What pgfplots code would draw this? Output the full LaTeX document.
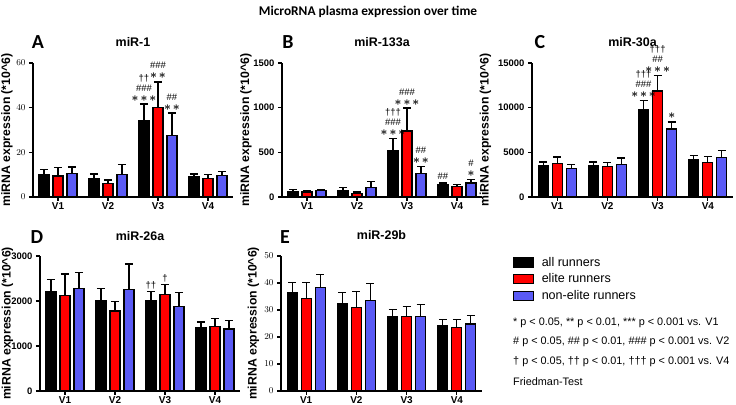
\documentclass[border=0pt]{standalone}
\usepackage{fontspec}
\setmainfont{Liberation Sans}
\newfontfamily\carlito{Carlito}
\usepackage{pgfplots}
\pgfplotsset{compat=1.18}

\definecolor{runred}{HTML}{FF0000}
\definecolor{runblue}{HTML}{5A5AF5}

\newcommand{\fs}[2]{\fontsize{#1}{#2}\selectfont}
\newcommand{\st}{{\boldmath$\ast$}}
\newcommand{\sone}{{\fs{12}{10}\st}}
\newcommand{\stwo}{{\fs{12}{10}\st\hspace{2bp}\st}}
\newcommand{\sthree}{{\fs{12}{10}\st\hspace{2bp}\st\hspace{2bp}\st}}
\newcommand{\dg}{\textdagger}
% one row of a significance stack: x, y (bar top), row (0 = lowest), text
\newcommand{\sg}[4]{\node[sig, yshift={3bp+10bp*#3}] at (axis cs:#1,#2) {#4};}

\pgfplotsset{
  panel/.style={
    scale only axis, width=200bp,
    axis x line*=bottom, axis y line*=left,
    axis line style={-, line width=1.2bp},
    xmin=0.5, xmax=4.5, ymin=0,
    xtick={1,2,3,4}, xticklabels={V1,V2,V3,V4},
    tick align=outside, major tick length=4bp,
    tick style={black, line width=1.2bp},
    x tick label style={font=\bfseries\fs{10}{11}, yshift=1.5bp},
    y tick label style={font=\bfseries\fs{9.5}{11}},
    scaled y ticks=false,
    ybar=4bp, bar width=10bp,
    clip=false,
    ylabel={miRNA expression (*10\textasciicircum 6)},
    every axis y label/.style={at={(axis description cs:#1,0.5)}, rotate=90,
      anchor=center, font=\bfseries\fs{12.3}{14}},
    every axis title/.style={at={(axis description cs:0.5,1)}, anchor=base,
      yshift=16bp, font=\bfseries\fs{12.5}{14}},
    error bars/y dir=plus, error bars/y explicit,
    error bars/error bar style={line width=1.2bp, black},
    error bars/error mark options={rotate=90, mark size=4bp, line width=1.2bp, black},
  },
  s1/.style={fill=black, draw=black, line width=1.2bp},
  s2/.style={fill=runred, draw=black, line width=1.2bp},
  s3/.style={fill=runblue, draw=black, line width=1.2bp},
}
\tikzset{sig/.style={anchor=base, inner sep=0pt, font=\fs{9.5}{10}}}

\begin{document}
\begin{tikzpicture}
\useasboundingbox (0bp,0bp) rectangle (736bp,405bp);

\node[font=\carlito\bfseries\fs{13.4}{15}] at (368bp,393bp) {MicroRNA plasma expression over time};

% A
\begin{axis}[panel=-0.13, height=134bp, at={(33bp,208bp)}, anchor=south west,
  ymax=60, ytick={0,20,40,60}, title={miR-1}]
\addplot[s1] coordinates {(1,10.0) +- (0,2.4) (2,8.1) +- (0,2.2) (3,34.0) +- (0,7.6) (4,9.1) +- (0,1.2)};
\addplot[s2] coordinates {(1,9.4) +- (0,3.9) (2,6.1) +- (0,1.5) (3,40.0) +- (0,11.5) (4,8.4) +- (0,1.7)};
\addplot[s3] coordinates {(1,10.4) +- (0,3.0) (2,10.1) +- (0,4.5) (3,27.6) +- (0,10.0) (4,9.7) +- (0,1.8)};
\sg{2.72}{41.6}{0}{\sthree}\sg{2.72}{41.6}{1}{\#\#\#}\sg{2.72}{41.6}{2}{\dg\dg}
\sg{3}{51.5}{0}{\stwo}\sg{3}{51.5}{1}{\#\#\#}
\sg{3.28}{37.6}{0}{\stwo}\sg{3.28}{37.6}{1}{\#\#}
\end{axis}

% B
\begin{axis}[panel=-0.18, height=134bp, at={(282bp,208bp)}, anchor=south west,
  ymax=1500, ytick={0,500,1000,1500}, yticklabels={0,500,1000,1500}, title={miR-133a}]
\addplot[s1] coordinates {(1,65) +- (0,15) (2,70) +- (0,35) (3,515) +- (0,138) (4,140) +- (0,17)};
\addplot[s2] coordinates {(1,55) +- (0,17) (2,40) +- (0,15) (3,739) +- (0,257) (4,119) +- (0,23)};
\addplot[s3] coordinates {(1,75) +- (0,13) (2,105) +- (0,65) (3,265) +- (0,78) (4,157) +- (0,37)};
\sg{2.72}{653}{0}{\sthree}\sg{2.72}{653}{1}{\#\#\#}\sg{2.72}{653}{2}{\dg\dg\dg}
\sg{3}{996}{0}{\sthree}\sg{3}{996}{1}{\#\#\#}
\sg{3.28}{343}{0}{\stwo}\sg{3.28}{343}{1}{\#\#}
\sg{3.72}{157}{0}{\#\#}
\sg{4.28}{194}{0}{\sone}\sg{4.28}{194}{1}{\#}
\end{axis}

% C
\begin{axis}[panel=-0.231, width=201bp, height=134bp, at={(532bp,208bp)}, anchor=south west,
  ymax=15000, ytick={0,5000,10000,15000}, yticklabels={0,5000,10000,15000}, title={miR-30a}]
\addplot[s1] coordinates {(1,3470) +- (0,448) (2,3545) +- (0,373) (3,9813) +- (0,1008) (4,4179) +- (0,485)};
\addplot[s2] coordinates {(1,3731) +- (0,747) (2,3433) +- (0,410) (3,11866) +- (0,1753) (4,3881) +- (0,671)};
\addplot[s3] coordinates {(1,3172) +- (0,485) (2,3657) +- (0,709) (3,7612) +- (0,784) (4,4440) +- (0,784)};
\sg{2.72}{10821}{0}{\sthree}\sg{2.72}{10821}{1}{\#\#\#}\sg{2.72}{10821}{2}{\dg\dg\dg}
\sg{3}{13619}{0}{\sthree}\sg{3}{13619}{1}{\#\#}\sg{3}{13619}{2}{\dg\dg\dg}
\sg{3.28}{8396}{0}{\sone}
\end{axis}

% D
\begin{axis}[panel=-0.1625, height=135bp, at={(40bp,14bp)}, anchor=south west,
  ymax=3000, ytick={0,1000,2000,3000}, yticklabels={0,1000,2000,3000}, title={miR-26a}]
\addplot[s1] coordinates {(1,2200) +- (0,281) (2,2000) +- (0,274) (3,2015) +- (0,192) (4,1407) +- (0,126)};
\addplot[s2] coordinates {(1,2126) +- (0,474) (2,1778) +- (0,207) (3,2148) +- (0,222) (4,1430) +- (0,177)};
\addplot[s3] coordinates {(1,2274) +- (0,363) (2,2259) +- (0,563) (3,1881) +- (0,304) (4,1378) +- (0,192)};
\sg{2.72}{2207}{0}{\dg\dg}
\sg{3}{2370}{0}{\dg}
\end{axis}

% E
\begin{axis}[panel=-0.137, width=201bp, height=135bp, at={(281bp,14bp)}, anchor=south west,
  ymax=50, ytick={0,10,20,30,40,50}, title={miR-29b},
  legend cell align=left,
  legend style={at={(1.154,1)}, anchor=north west, draw=none, fill=none,
    font=\fs{12.6}{15}, row sep=4bp, inner sep=0pt, nodes={inner sep=1bp}},
  legend image code/.code={\draw[#1, line width=1.2bp] (0bp,-4.5bp) rectangle (20bp,4.5bp);
    \path[draw=none, fill=none] (0bp,0bp) -- (27bp,0bp);}]
\addplot[s1] coordinates {(1,36.4) +- (0,3.7) (2,32.2) +- (0,4.2) (3,27.6) +- (0,2.7) (4,24.3) +- (0,2.2)};
\addplot[s2] coordinates {(1,34.4) +- (0,5.8) (2,30.8) +- (0,6.0) (3,27.6) +- (0,3.8) (4,23.6) +- (0,3.0)};
\addplot[s3] coordinates {(1,38.2) +- (0,5.0) (2,33.4) +- (0,6.5) (3,27.6) +- (0,4.3) (4,24.8) +- (0,3.3)};
\legend{all runners, elite runners, non-elite runners}
\end{axis}

% panel letters
\begin{scope}[every node/.style={font=\carlito\bfseries\fs{20}{22}}]
\node at (38bp,363bp) {A};
\node at (288bp,363bp) {B};
\node at (540bp,363bp) {C};
\node at (37bp,168bp) {D};
\node at (285bp,168bp) {E};
\end{scope}

% footnotes
\begin{scope}[every node/.style={anchor=west, font=\fs{10.9}{13}, inner sep=0pt}]
\node at (513bp,82bp) {* p < 0.05, ** p < 0.01, *** p < 0.001 vs. V1};
\node at (513bp,63bp) {\# p < 0.05, \#\# p < 0.01, \#\#\# p < 0.001 vs. V2};
\node at (513bp,43bp) {\dg{} p < 0.05, \dg\dg{} p < 0.01, \dg\dg\dg{} p < 0.001 vs. V4};
\node at (513bp,23bp) {Friedman-Test};
\end{scope}
\end{tikzpicture}
\end{document}
